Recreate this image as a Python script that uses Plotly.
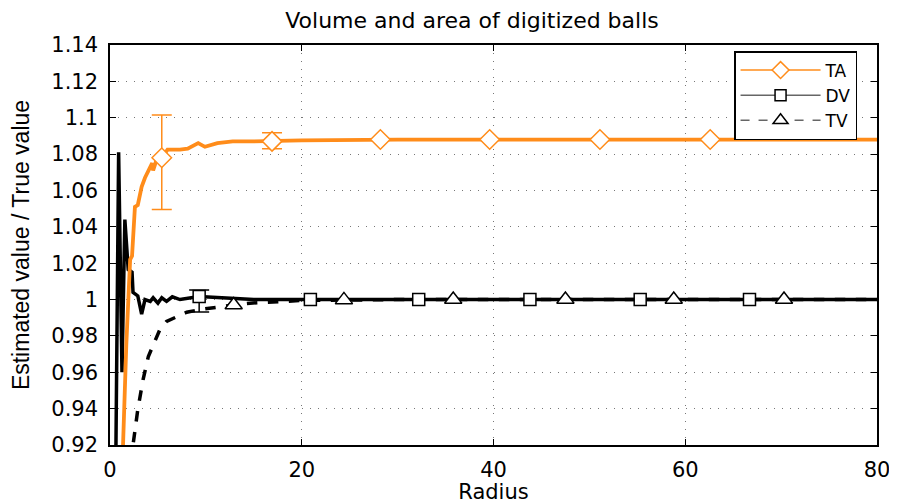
import plotly.graph_objects as go

# TA (total area) curve
ta_r = [1.2, 1.36, 1.7, 2.1, 2.3, 2.6, 2.9, 3.3, 3.65, 4.2, 4.4, 4.5, 4.8, 5.4, 6.0, 7.3, 8.1, 9.2, 9.9, 11.2, 12.8, 14.9, 16.9, 20, 30, 80]
ta_v = [0.88, 0.92, 0.975, 1.022, 1.024, 1.051, 1.052, 1.062, 1.067, 1.073, 1.075, 1.071, 1.076, 1.078, 1.0825, 1.0825, 1.083, 1.086, 1.084, 1.086, 1.087, 1.087, 1.087, 1.0875, 1.088, 1.088]
ta_mr = [5.4, 16.9, 28.2, 39.6, 51.1, 62.6]
ta_mv = [1.078, 1.087, 1.088, 1.088, 1.088, 1.088]
ta_eplus = [0.0235, 0.0048, 0, 0, 0, 0]
ta_eminus = [0.0285, 0.004, 0, 0, 0, 0]

# DV (digital volume) curve
dv_r = [0.5, 0.9, 1.25, 1.55, 1.9, 2.3, 2.4, 2.9, 3.3, 3.65, 4.2, 4.5, 5.0, 5.4, 5.9, 6.5, 7.3, 9.3, 15, 80]
dv_v = [0.85, 1.081, 0.96, 1.044, 1.0165, 1.015, 1.004, 1.002, 0.992, 1.0, 0.999, 1.001, 0.998, 1.001, 0.999, 1.0015, 1.0, 1.0017, 1.0, 1.0]
dv_mr = [9.3, 20.9, 32.2, 43.8, 55.3, 66.7]
dv_mv = [1.0017, 1.0, 1.0, 1.0, 1.0, 1.0]
dv_eplus = [0.0035, 0, 0, 0, 0, 0]
dv_eminus = [0.0085, 0, 0, 0, 0, 0]

# TV curve
tv_r = [2.2, 2.4, 2.9, 3.45, 4.0, 4.7, 5.2, 5.9, 6.8, 8.0, 9.4, 10.7, 12.2, 12.9, 14.6, 16.3, 20, 30, 80]
tv_v = [0.91, 0.92, 0.9395, 0.956, 0.9687, 0.978, 0.9835, 0.988, 0.990, 0.993, 0.9945, 0.9955, 0.9967, 0.997, 0.998, 0.9985, 0.9995, 1.0, 1.0]
tv_mr = [12.9, 24.4, 35.8, 47.5, 58.8, 70.3]
tv_mv = [0.997, 0.9998, 1.0, 1.0, 1.0, 1.0]

y_ticks = [0.92, 0.94, 0.96, 0.98, 1.0, 1.02, 1.04, 1.06, 1.08, 1.1, 1.12, 1.14]
y_labels = ["0.92", "0.94", "0.96", "0.98", "1", "1.02", "1.04", "1.06", "1.08", "1.1", "1.12", "1.14"]
x_ticks = [0, 20, 40, 60, 80]

ORANGE = "#ff8c1a"
FONT = "DejaVu Sans"
W, H = 889, 496
fig = go.Figure()

fig.add_trace(go.Scatter(x=tv_r, y=tv_v, mode="lines", line=dict(color="black", width=3.5, dash="dash"), showlegend=False))
fig.add_trace(go.Scatter(x=dv_r, y=dv_v, mode="lines", line=dict(color="black", width=3.5), showlegend=False))
fig.add_trace(go.Scatter(x=ta_r, y=ta_v, mode="lines", line=dict(color=ORANGE, width=3.8), showlegend=False))

fig.add_trace(go.Scatter(x=ta_mr, y=ta_mv, mode="markers",
                         marker=dict(symbol="diamond", size=15, color="white", line=dict(color=ORANGE, width=1.5)),
                         error_y=dict(type="data", symmetric=False, array=ta_eplus, arrayminus=ta_eminus,
                                      color=ORANGE, thickness=1.5, width=10),
                         showlegend=False))
fig.add_trace(go.Scatter(x=dv_mr, y=dv_mv, mode="markers",
                         marker=dict(symbol="square", size=12, color="white", line=dict(color="black", width=1.5)),
                         error_y=dict(type="data", symmetric=False, array=dv_eplus, arrayminus=dv_eminus,
                                      color="black", thickness=1.5, width=10),
                         showlegend=False))
fig.add_trace(go.Scatter(x=tv_mr, y=tv_mv, mode="markers",
                         marker=dict(symbol="triangle-up", size=15, color="white", line=dict(color="black", width=1.5)),
                         showlegend=False))

# legend entries
fig.add_trace(go.Scatter(x=[None], y=[None], mode="lines+markers", name="TA",
                         line=dict(color=ORANGE, width=1.5),
                         marker=dict(symbol="diamond", size=13, color="white", line=dict(color=ORANGE, width=1.5))))
fig.add_trace(go.Scatter(x=[None], y=[None], mode="lines+markers", name="DV",
                         line=dict(color="#666", width=1.5),
                         marker=dict(symbol="square", size=11, color="white", line=dict(color="black", width=1.5))))
fig.add_trace(go.Scatter(x=[None], y=[None], mode="lines+markers", name="TV",
                         line=dict(color="#666", width=1.5, dash="dash"),
                         marker=dict(symbol="triangle-up", size=13, color="white", line=dict(color="black", width=1.5))))

fig.update_layout(
    width=W, height=H,
    margin=dict(l=102, r=20, t=37, b=59),
    paper_bgcolor="white", plot_bgcolor="white",
    font=dict(family=FONT, size=20, color="black"),
    title=dict(text="Volume and area of digitized balls", xref="container", x=464 / W, xanchor="center",
               yref="container", y=1 - 12 / H, yanchor="middle",
               font=dict(family=FONT, size=22)),
    legend=dict(x=0.974, xanchor="right", y=0.985, yanchor="top", bgcolor="white",
                bordercolor="black", borderwidth=1.5, font=dict(family=FONT, size=17),
                itemwidth=80, tracegroupgap=0),
    xaxis=dict(range=[0, 80], tickvals=x_ticks, ticks="inside", ticklen=6, tickcolor="black",
               showline=True, linecolor="black", linewidth=1.5, mirror="ticks", automargin=False,
               showgrid=True, gridcolor="#777", griddash="1px,7px", gridwidth=1, zeroline=False,
               tickfont=dict(family=FONT, size=21), ticklabelstandoff=5,
               title=dict(text="Radius", standoff=3, font=dict(family=FONT, size=21))),
    yaxis=dict(range=[0.92, 1.14], tickvals=y_ticks, ticktext=y_labels, ticks="inside", ticklen=6, tickcolor="black",
               showline=True, linecolor="black", linewidth=1.5, mirror="ticks", automargin=False,
               showgrid=True, gridcolor="#777", griddash="1px,7px", gridwidth=1, zeroline=False,
               tickfont=dict(family=FONT, size=21), ticklabelstandoff=6,
               title=dict(text="Estimated value / True value", standoff=15,
                          font=dict(family="Liberation Sans", size=23))),
)

fig.write_html("out.html")
